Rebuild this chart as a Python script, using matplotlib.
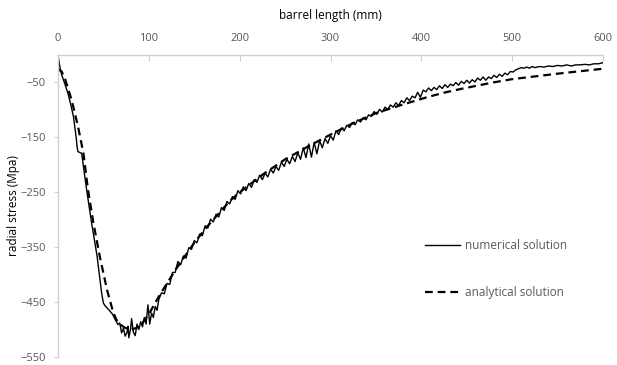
import matplotlib
matplotlib.use("Agg")
import matplotlib.pyplot as plt

# ---------------- data ----------------
num_x = [0, 1, 2, 4, 7, 11, 14, 17, 20, 21, 22, 26, 29, 32, 37, 43, 48, 50, 52, 57,
         60, 63, 66, 68, 70, 72, 74, 76, 77, 78, 80, 81, 83, 85, 87, 89, 91, 93, 95, 97,
         99, 101, 103, 105, 107, 109, 111, 114, 117, 120, 123, 126, 129, 132, 135, 138,
         141, 144, 147, 150, 153, 156, 159, 162, 165, 168, 171, 174, 177, 180, 183, 186,
         189, 192, 195, 198, 201, 204, 207, 210, 213, 216, 219, 222, 225, 228, 231, 234,
         237, 240, 243, 246, 249, 252, 255, 258, 261, 264, 267, 270, 273, 276, 279, 282,
         285, 288, 291, 294, 297, 300, 303, 306, 309, 312, 315, 318, 321, 324, 327, 330,
         333, 336, 339, 342, 345, 348, 351, 354, 357, 360, 363, 366, 369, 372, 375, 378,
         381, 384, 387, 390, 393, 396, 399, 402, 405, 408, 411, 414, 417, 420, 423, 426,
         429, 432, 435, 438, 441, 444, 447, 450, 453, 456, 459, 462, 465, 468, 471, 474,
         477, 480, 483, 486, 489, 492, 495, 498, 501, 504, 507, 510, 513, 516, 519, 522,
         525, 530, 535, 540, 545, 550, 555, 560, 565, 570, 575, 580, 585, 590, 595, 600]
num_y = [0, -10, -21, -36, -50, -70, -90, -112, -150, -167, -176, -179, -215, -251, -306,
         -366, -433, -452, -457, -466, -472, -482, -491, -488, -506, -498, -512, -505, -494,
         -515, -498, -480, -505, -511, -490, -500, -486, -495, -478, -490, -455, -490, -470,
         -478, -458, -465, -445, -433, -435, -416, -418, -396, -396, -376, -382, -366, -370,
         -351, -354, -338, -342, -326, -329, -311, -315, -299, -304, -290, -295, -278, -283,
         -267, -271, -258, -263, -247, -253, -240, -247, -234, -241, -227, -232, -219, -227,
         -215, -222, -208, -215, -203, -210, -195, -203, -190, -198, -185, -194, -178, -190,
         -169, -187, -162, -186, -159, -180, -156, -169, -152, -161, -147, -155, -138, -145,
         -133, -138, -128, -132, -123, -127, -118, -122, -114, -118, -109, -112, -103, -108,
         -99, -104, -95, -99, -91, -95, -87, -92, -83, -87, -78, -83, -75, -78, -68, -77,
         -64, -67, -60, -65, -59, -63, -56, -61, -54, -59, -53, -56, -50, -55, -48, -52,
         -46, -51, -45, -49, -42, -46, -40, -46, -40, -43, -37, -41, -35, -39, -33, -36,
         -30, -31, -27, -25, -23, -24, -22, -24, -21, -23, -21, -22, -20, -21, -19, -20,
         -18, -20, -18, -18, -17, -18, -16, -16, -14]

ana_x = [0, 2, 4, 8, 15, 22, 28, 33, 39, 46, 54, 61, 66, 74, 81, 90, 100, 112, 131,
         150, 164, 189, 200, 226, 250, 263, 277, 300, 325, 350, 380, 406, 424, 443, 461,
         479, 500, 550, 600]
ana_y = [-25, -28, -30, -45, -82, -130, -179, -245, -306, -367, -428, -470, -488, -497,
         -500, -495, -472, -437, -387, -342, -313, -266, -250, -217, -190, -178, -165,
         -145, -124, -106, -90, -77, -69, -62, -56, -50, -44, -34, -25]

x_ticks = [0, 100, 200, 300, 400, 500, 600]
y_ticks = [-550, -450, -350, -250, -150, -50]

x_title = "barrel length (mm)"
y_title = "radial stress (Mpa)"
label_num = "numerical solution"
label_ana = "analytical solution"

# ---------------- figure ----------------
W, H = 617, 365
fig = plt.figure(figsize=(W / 100, H / 100), dpi=100)
ax = fig.add_axes([58 / W, 1 - 357 / H, (603 - 58) / W, (357 - 55) / H])

font = "Open Sans"
txt_color = "#595959"
axis_color = "#d0d0d0"

ax.plot(num_x, num_y, color="black", lw=1.0, label=label_num)
ax.plot(ana_x, ana_y, color="black", lw=1.6, dashes=(3.5, 2.2), label=label_ana)

ax.set_xlim(0, 600)
ax.set_ylim(-550, 0)
ax.set_xticks(x_ticks)
ax.set_yticks(y_ticks)

ax.xaxis.tick_top()
ax.xaxis.set_label_position("top")
ax.tick_params(axis="x", direction="in", length=4, color=axis_color, pad=12,
               labelsize=8, labelcolor=txt_color)
ax.tick_params(axis="y", direction="out", length=3, color=axis_color, pad=6,
               labelsize=8, labelcolor=txt_color)
for lab in ax.get_xticklabels() + ax.get_yticklabels():
    lab.set_fontfamily(font)
for lab in ax.get_xticklabels():
    lab.set_va("center")

for s in ["right", "bottom"]:
    ax.spines[s].set_visible(False)
for s in ["left", "top"]:
    ax.spines[s].set_color(axis_color)
    ax.spines[s].set_linewidth(1.0)

ax.set_xlabel(x_title, fontsize=8.5, family=font, color="black")
ax.xaxis.set_label_coords(0.5, 1 + (55 - 15) / 302)
ax.xaxis.label.set_va("center")
ax.set_ylabel(y_title, fontsize=8.5, family=font, color="black")
ax.yaxis.set_label_coords((14 - 58) / 545, 0.5)
ax.yaxis.label.set_va("center")

leg = ax.legend(loc="upper left", bbox_to_anchor=((425 - 58) / 545, 1 - (239 - 55) / 302),
                frameon=False, handlelength=3.0, handletextpad=0.4, labelspacing=2.85,
                borderpad=0, borderaxespad=0, prop={"family": font, "size": 8.5})
for t in leg.get_texts():
    t.set_color(txt_color)

fig.savefig("out.png", dpi=100)
